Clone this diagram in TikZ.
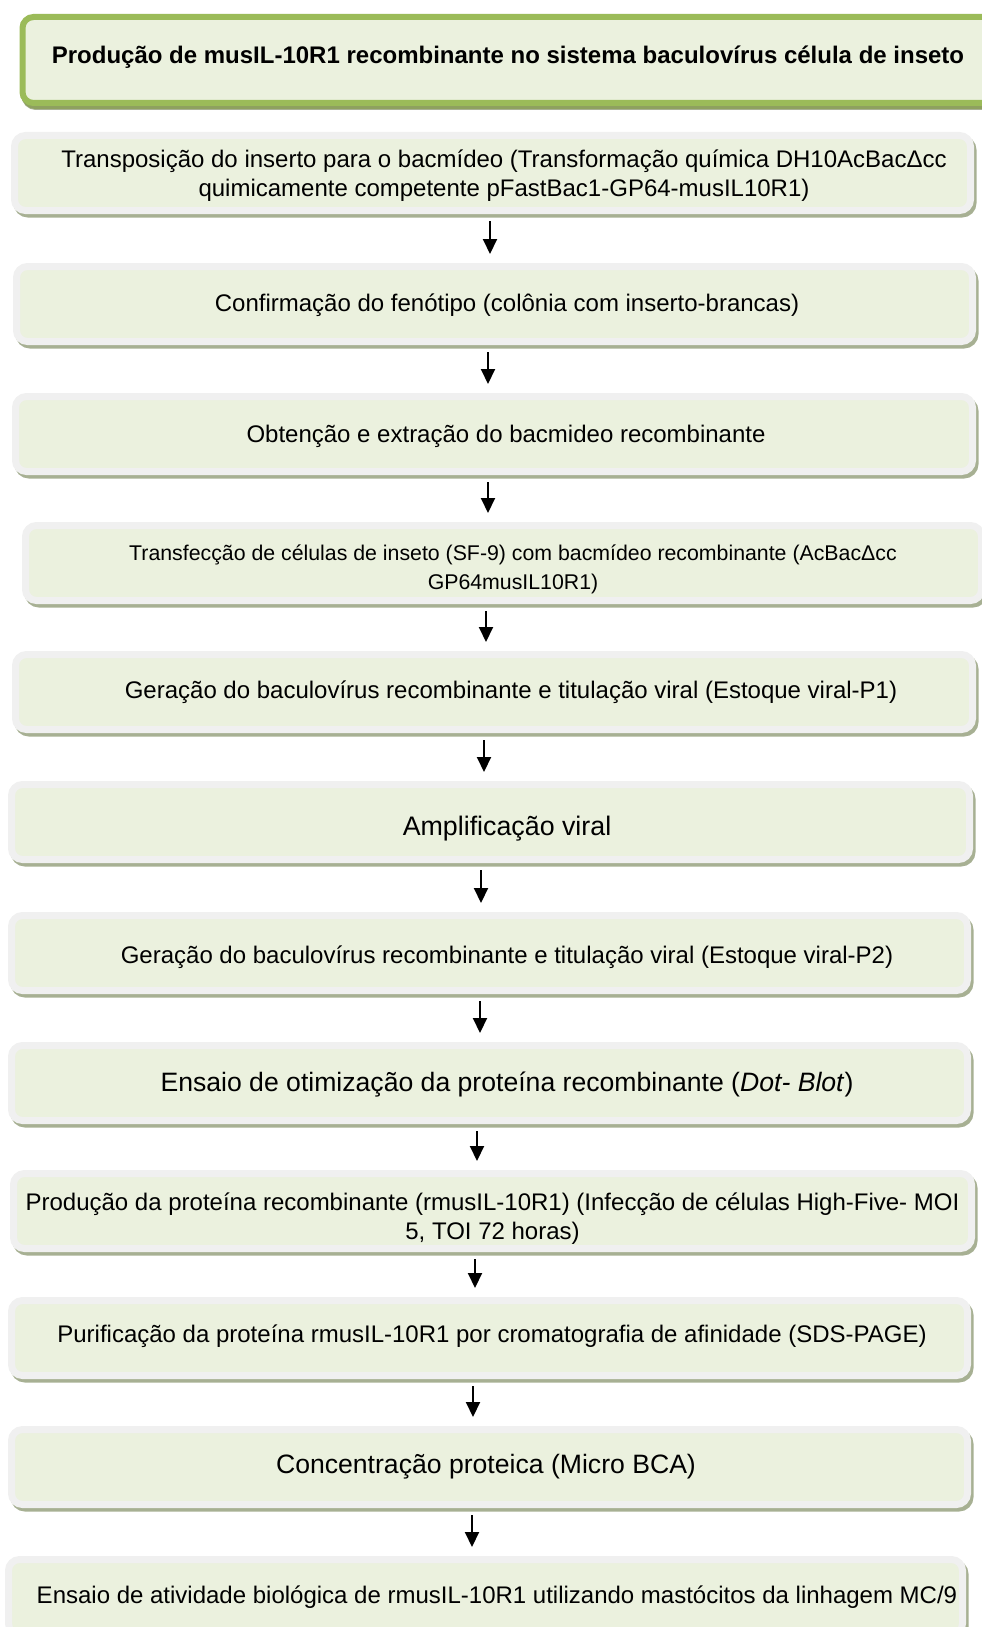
\documentclass[tikz,border=0pt]{standalone}
\usepackage{fontspec}
\setmainfont{Liberation Sans}
\usetikzlibrary{shadows,arrows.meta}

\definecolor{stagefill}{HTML}{EBF1DE}
\definecolor{stagerim}{HTML}{F0F0F0}
\definecolor{stageshade}{HTML}{A7B093}
\definecolor{titlerim}{HTML}{9BBB59}
\definecolor{titleshade}{HTML}{8EA15F}

\tikzset{
    stage/.style={draw=stagerim, fill=stagefill, line width=7pt, rounded corners=11pt,
        inner sep=0pt, minimum height=75pt,
        drop shadow={shadow xshift=2.5pt, shadow yshift=-3.5pt, fill=stageshade,
            draw=stageshade, line width=7pt, opacity=1}},
    titlebox/.style={stage, draw=titlerim, line width=6pt,
        drop shadow={shadow xshift=2pt, shadow yshift=-3pt, fill=titleshade,
            draw=titleshade, line width=6pt, opacity=1}},
    stagetext/.style={align=center, inner sep=0pt, font=\fontsize{24}{29}\selectfont},
    flow/.style={line width=2pt, -{Triangle[width=14pt,length=15pt]},
        shorten <=7pt, shorten >=9pt}
}

\begin{document}
\begin{tikzpicture}[x=1pt, y=-1pt]
    \useasboundingbox (0,0) rectangle (982,1627);
    % title
        \node[titlebox, minimum width=979, minimum height=86] (title) at (512,60) {};
        \node[stagetext, font=\fontsize{24}{29}\selectfont\bfseries] (ttitle)
            at ([xshift=-4, yshift=3]title.center)
            {Produção de musIL-10R1 recombinante no sistema baculovírus célula de inseto};
    % the stages, top to bottom
        \node[stage, minimum width=956] (s1) at (492.5,173) {};
        \node[stage, minimum width=956] (s2) at (494.5,304) {};
        \node[stage, minimum width=957] (s3) at (494,434) {};
        \node[stage, minimum width=956] (s4) at (503.5,563) {};
        \node[stage, minimum width=957] (s5) at (494,692) {};
        \node[stage, minimum width=958] (s6) at (490.5,822) {};
        \node[stage, minimum width=956] (s7) at (489.5,953) {};
        \node[stage, minimum width=956] (s8) at (489.5,1083) {};
        \node[stage, minimum width=958] (s9) at (492.5,1211) {};
        \node[stage, minimum width=956] (s10) at (489.5,1338) {};
        \node[stage, minimum width=956] (s11) at (489.5,1467) {};
        \node[stage, minimum width=954] (s12) at (485.5,1597) {};
    % texts of the stages
        \node[stagetext] (t1) at ([xshift=11.5, yshift=-2.5]s1.center)
            {Transposição do inserto para o bacmídeo (Transformação química DH10AcBacΔcc\\
             quimicamente competente pFastBac1-GP64-musIL10R1)};
        \node[stagetext] (t2) at ([xshift=12.5, yshift=-1]s2.center)
            {Confirmação do fenótipo (colônia com inserto-brancas)};
        \node[stagetext] (t3) at ([xshift=12, yshift=-2]s3.center)
            {Obtenção e extração do bacmideo recombinante};
        \node[stagetext, font=\fontsize{21.3}{29}\selectfont] (t4) at ([xshift=9.5, yshift=-6]s4.center)
            {Transfecção de células de inseto (SF-9) com bacmídeo recombinante (AcBacΔcc\\
             GP64musIL10R1)};
        \node[stagetext] (t5) at ([xshift=17]s5.center)
            {Geração do baculovírus recombinante e titulação viral (Estoque viral-P1)};
        \node[stagetext, font=\fontsize{26.8}{30}\selectfont] (t6) at ([xshift=16.5, yshift=-7]s6.center)
            {Amplificação viral};
        \node[stagetext] (t7) at ([xshift=17.5, yshift=-4]s7.center)
            {Geração do baculovírus recombinante e titulação viral (Estoque viral-P2)};
        \node[stagetext, font=\fontsize{26.6}{30}\selectfont] (t8) at ([xshift=17.5, yshift=-2]s8.center)
            {Ensaio de otimização da proteína recombinante (\textit{Dot- Blot})};
        \node[stagetext] (t9) at ([yshift=-7.5]s9.center)
            {Produção da proteína recombinante (rmusIL-10R1) (Infecção de células High-Five- MOI\\
             5, TOI 72 horas)};
        \node[stagetext] (t10) at ([xshift=2.5, yshift=1.5]s10.center)
            {Purificação da proteína rmusIL-10R1 por cromatografia de afinidade (SDS-PAGE)};
        \node[stagetext, font=\fontsize{26.6}{30}\selectfont] (t11) at ([xshift=-3.5]s11.center)
            {Concentração proteica (Micro BCA)};
        \node[stagetext] (t12) at ([xshift=11.5]s12.center)
            {Ensaio de atividade biológica de rmusIL-10R1 utilizando mastócitos da linhagem MC/9};
    % arrows between the stages
        \draw[flow] ([xshift=-2.5]s1.south) -- ([xshift=-2.5]s1.south |- s2.north);
        \draw[flow] ([xshift=-6.5]s2.south) -- ([xshift=-6.5]s2.south |- s3.north);
        \draw[flow] ([xshift=-6]s3.south) -- ([xshift=-6]s3.south |- s4.north);
        \draw[flow] ([xshift=-17.5]s4.south) -- ([xshift=-17.5]s4.south |- s5.north);
        \draw[flow] ([xshift=-10]s5.south) -- ([xshift=-10]s5.south |- s6.north);
        \draw[flow] ([xshift=-9.5]s6.south) -- ([xshift=-9.5]s6.south |- s7.north);
        \draw[flow] ([xshift=-9.5]s7.south) -- ([xshift=-9.5]s7.south |- s8.north);
        \draw[flow] ([xshift=-12.5]s8.south) -- ([xshift=-12.5]s8.south |- s9.north);
        \draw[flow] ([xshift=-17.5]s9.south) -- ([xshift=-17.5]s9.south |- s10.north);
        \draw[flow] ([xshift=-16.5]s10.south) -- ([xshift=-16.5]s10.south |- s11.north);
        \draw[flow] ([xshift=-17.5]s11.south) -- ([xshift=-17.5]s11.south |- s12.north);
\end{tikzpicture}
\end{document}
